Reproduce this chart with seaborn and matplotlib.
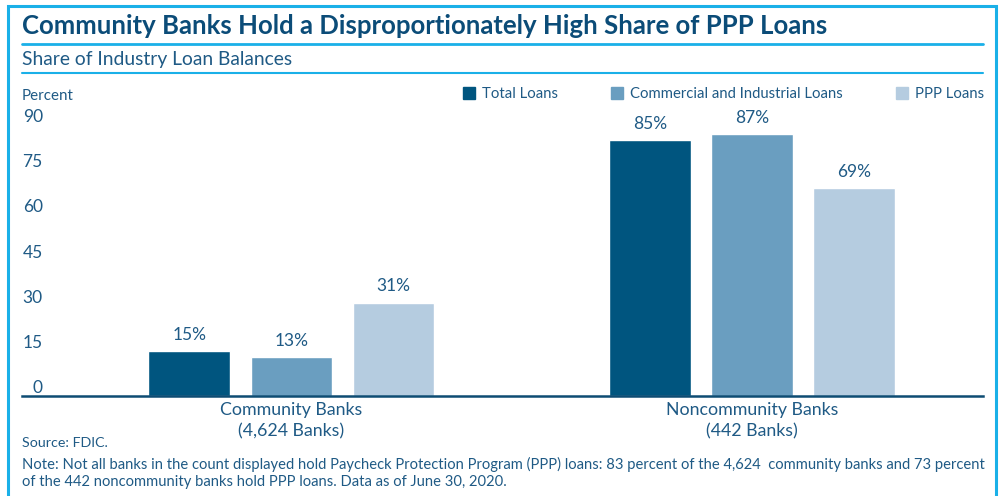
import pandas as pd
import matplotlib
matplotlib.use("Agg")
import matplotlib.pyplot as plt
import seaborn as sns
from matplotlib.patches import Rectangle
from matplotlib.lines import Line2D

# data
groups = ["Community Banks\n(4,624 Banks)", "Noncommunity Banks\n(442 Banks)"]
series = ["Total Loans", "Commercial and Industrial Loans", "PPP Loans"]
community = [15, 13, 31]
noncommunity = [85, 87, 69]
yticks = [0, 15, 30, 45, 60, 75, 90]

colors = ["#00557f", "#6a9ec0", "#b5cce0"]
text_col = "#1f5a85"
title_col = "#0b4c78"
line_col = "#1ab0e8"

rows = []
for s, v in zip(series, community):
    rows.append({"group": groups[0], "series": s, "value": v})
for s, v in zip(series, noncommunity):
    rows.append({"group": groups[1], "series": s, "value": v})
df = pd.DataFrame(rows)

sns.set_style("white")
plt.rcParams["font.family"] = ["Lato", "DejaVu Sans"]

W, H = 1001, 496
fig = plt.figure(figsize=(W / 100, H / 100), dpi=100)

def fx(x):
    return x / W

def fy(y):
    return 1 - y / H

ax = fig.add_axes([fx(22), fy(396), fx(983) - fx(22), fy(125) - fy(396)])

sns.barplot(data=df, x="group", y="value", hue="series", palette=colors,
            width=0.665, gap=0.2, ax=ax, legend=False, saturation=1)

for c in ax.containers:
    ax.bar_label(c, fmt="{:.0f}%", padding=6, fontsize=12.5, color=text_col)

ax.set_xlim(-0.585, 1.502)
ax.set_ylim(0, 90)
ax.set_yticks(yticks)
ax.set_xlabel("")
ax.set_ylabel("")
ax.tick_params(axis="y", length=0, pad=-15, labelsize=12.5, labelcolor=text_col)
ax.tick_params(axis="x", length=0, pad=4, labelsize=12.8, labelcolor=text_col)
for lbl in ax.get_yticklabels():
    lbl.set_verticalalignment("bottom")
for lbl in ax.get_xticklabels():
    lbl.set_linespacing(1.45)
for side in ["left", "right", "top"]:
    ax.spines[side].set_visible(False)
ax.spines["bottom"].set_color("#0d4c73")
ax.spines["bottom"].set_linewidth(1.8)

# legend
handles = [Line2D([], [], marker="s", linestyle="", markersize=9,
                  markerfacecolor=c, markeredgecolor=c) for c in colors]
fig.legend(handles, series, loc="center right", bbox_to_anchor=(fx(984), fy(94)),
           ncol=3, frameon=False, fontsize=10.7, labelcolor=text_col,
           handlelength=0.8, handletextpad=0.45, columnspacing=3.6,
           borderaxespad=0, borderpad=0)

# titles and notes
fig.text(fx(22), fy(26), "Community Banks Hold a Disproportionately High Share of PPP Loans",
         fontsize=18.5, fontweight="bold", color=title_col, va="center", ha="left")
fig.text(fx(22), fy(60), "Share of Industry Loan Balances",
         fontsize=13.9, color=text_col, va="center", ha="left")
fig.text(fx(22), fy(96), "Percent", fontsize=10.9, color=text_col, va="center", ha="left")
fig.text(fx(22), fy(443), "Source: FDIC.", fontsize=10.3, color=text_col, va="center", ha="left")
fig.text(fx(22), fy(464),
         "Note: Not all banks in the count displayed hold Paycheck Protection Program (PPP) loans: "
         "83 percent of the 4,624  community banks and 73 percent",
         fontsize=10.6, color=text_col, va="center", ha="left")
fig.text(fx(22), fy(482),
         "of the 442 noncommunity banks hold PPP loans. Data as of June 30, 2020.",
         fontsize=10.6, color=text_col, va="center", ha="left")

# rules and frame
fig.add_artist(Line2D([fx(22), fx(983)], [fy(44), fy(44)], color=line_col, lw=2))
fig.add_artist(Line2D([fx(22), fx(983)], [fy(73), fy(73)], color=line_col, lw=1.5))
fig.add_artist(Rectangle((fx(8), fy(520)), fx(996) - fx(8), fy(6) - fy(520),
                         fill=False, edgecolor=line_col, lw=2.2))

fig.savefig("out.png", dpi=100)
